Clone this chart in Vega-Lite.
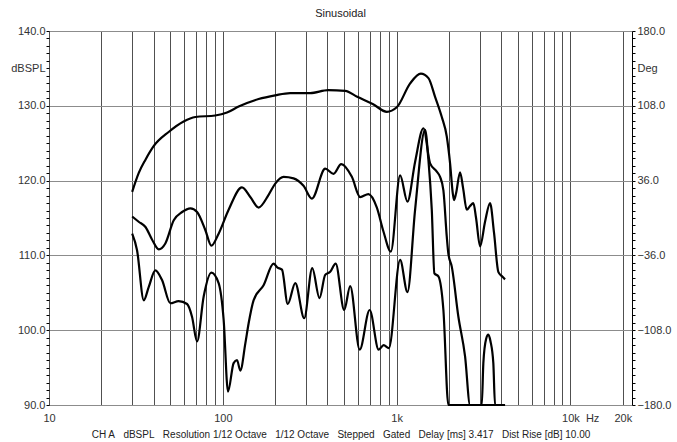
{
  "$schema": "https://vega.github.io/schema/vega-lite/v6.json",
  "width": 583,
  "height": 374,
  "autosize": {"type": "none"},
  "padding": {"left": 49, "top": 31, "right": 45, "bottom": 37},
  "background": "#ffffff",
  "title": {"text": "Sinusoidal", "fontSize": 11, "fontWeight": "normal", "font": "Liberation Sans", "color": "#222222", "offset": 6, "anchor": "middle"},
  "config": {
    "view": {"stroke": "#000000", "strokeWidth": 1},
    "axis": {"labelFont": "Liberation Sans", "labelFontSize": 11, "labelColor": "#333333", "titleFont": "Liberation Sans", "labelOverlap": false, "labelFlush": false, "labelBound": false}
  },
  "data": {"values": [
    {"s": "A", "f": 30.1, "db": 118.5},
    {"s": "A", "f": 32.8, "db": 121.0},
    {"s": "A", "f": 35.9, "db": 122.8},
    {"s": "A", "f": 40.0, "db": 124.6},
    {"s": "A", "f": 48.8, "db": 126.5},
    {"s": "A", "f": 59.5, "db": 127.9},
    {"s": "A", "f": 69.5, "db": 128.5},
    {"s": "A", "f": 90.5, "db": 128.7},
    {"s": "A", "f": 105.7, "db": 129.1},
    {"s": "A", "f": 123.3, "db": 129.9},
    {"s": "A", "f": 160.6, "db": 130.9},
    {"s": "A", "f": 200, "db": 131.4},
    {"s": "A", "f": 244, "db": 131.7},
    {"s": "A", "f": 318, "db": 131.7},
    {"s": "A", "f": 404, "db": 132.1},
    {"s": "A", "f": 506, "db": 132.0},
    {"s": "A", "f": 593, "db": 131.2},
    {"s": "A", "f": 733, "db": 130.2},
    {"s": "A", "f": 878, "db": 129.2},
    {"s": "A", "f": 1002, "db": 129.8},
    {"s": "A", "f": 1196, "db": 133.0},
    {"s": "A", "f": 1378, "db": 134.3},
    {"s": "A", "f": 1524, "db": 133.7},
    {"s": "A", "f": 1664, "db": 131.2},
    {"s": "A", "f": 1819, "db": 128.5},
    {"s": "A", "f": 1943, "db": 125.9},
    {"s": "A", "f": 2030, "db": 122.3},
    {"s": "A", "f": 2104, "db": 118.3},
    {"s": "A", "f": 2140, "db": 117.4},
    {"s": "A", "f": 2198, "db": 118.3},
    {"s": "A", "f": 2317, "db": 121.1},
    {"s": "A", "f": 2412, "db": 119.0},
    {"s": "A", "f": 2532, "db": 116.1},
    {"s": "A", "f": 2645, "db": 116.6},
    {"s": "A", "f": 2763, "db": 117.0},
    {"s": "A", "f": 2864, "db": 115.0},
    {"s": "A", "f": 3020, "db": 111.2},
    {"s": "A", "f": 3226, "db": 114.5},
    {"s": "A", "f": 3447, "db": 117.0},
    {"s": "A", "f": 3634, "db": 113.0},
    {"s": "A", "f": 3846, "db": 107.8},
    {"s": "A", "f": 4040, "db": 107.2},
    {"s": "A", "f": 4204, "db": 106.8},
    {"s": "B", "f": 30.1, "db": 115.2},
    {"s": "B", "f": 32.8, "db": 114.5},
    {"s": "B", "f": 35.9, "db": 113.8},
    {"s": "B", "f": 39.2, "db": 112.1},
    {"s": "B", "f": 42.8, "db": 110.8},
    {"s": "B", "f": 46.7, "db": 111.6},
    {"s": "B", "f": 52.2, "db": 114.7},
    {"s": "B", "f": 58.3, "db": 115.8},
    {"s": "B", "f": 65.1, "db": 116.3},
    {"s": "B", "f": 71.1, "db": 115.8},
    {"s": "B", "f": 79.3, "db": 113.4},
    {"s": "B", "f": 85.9, "db": 111.3},
    {"s": "B", "f": 94.6, "db": 112.9},
    {"s": "B", "f": 108, "db": 116.1},
    {"s": "B", "f": 128.9, "db": 119.1},
    {"s": "B", "f": 143.9, "db": 117.8},
    {"s": "B", "f": 160.6, "db": 116.4},
    {"s": "B", "f": 183.4, "db": 118.1},
    {"s": "B", "f": 200.3, "db": 119.6},
    {"s": "B", "f": 223.6, "db": 120.5},
    {"s": "B", "f": 255.3, "db": 120.3},
    {"s": "B", "f": 291.3, "db": 119.3},
    {"s": "B", "f": 325.6, "db": 117.6},
    {"s": "B", "f": 388.2, "db": 121.6},
    {"s": "B", "f": 433.4, "db": 120.9},
    {"s": "B", "f": 479.8, "db": 122.2},
    {"s": "B", "f": 552.6, "db": 120.5},
    {"s": "B", "f": 616.9, "db": 117.8},
    {"s": "B", "f": 688.4, "db": 118.2},
    {"s": "B", "f": 769.6, "db": 116.4},
    {"s": "B", "f": 839.7, "db": 113.2},
    {"s": "B", "f": 926, "db": 110.5},
    {"s": "B", "f": 1047, "db": 120.7},
    {"s": "B", "f": 1154, "db": 117.2},
    {"s": "B", "f": 1277, "db": 122.5},
    {"s": "B", "f": 1426, "db": 127.0},
    {"s": "B", "f": 1558, "db": 122.3},
    {"s": "B", "f": 1702, "db": 121.2},
    {"s": "B", "f": 1778, "db": 120.5},
    {"s": "B", "f": 1858, "db": 118.7},
    {"s": "B", "f": 1943, "db": 112.5},
    {"s": "B", "f": 1985, "db": 110.2},
    {"s": "B", "f": 2076, "db": 108.5},
    {"s": "B", "f": 2266, "db": 101.8},
    {"s": "B", "f": 2476, "db": 96.5},
    {"s": "B", "f": 2645, "db": 90},
    {"s": "B", "f": 4204, "db": 90},
    {"s": "C", "f": 30.1, "db": 112.9},
    {"s": "C", "f": 32.1, "db": 110.7},
    {"s": "C", "f": 35.1, "db": 104.0},
    {"s": "C", "f": 37.5, "db": 105.8},
    {"s": "C", "f": 40.9, "db": 108.0},
    {"s": "C", "f": 44.7, "db": 106.7},
    {"s": "C", "f": 49.9, "db": 103.6},
    {"s": "C", "f": 55.7, "db": 103.9},
    {"s": "C", "f": 62.3, "db": 103.5},
    {"s": "C", "f": 66.5, "db": 101.8},
    {"s": "C", "f": 71.1, "db": 98.5},
    {"s": "C", "f": 77.6, "db": 104.5},
    {"s": "C", "f": 85.9, "db": 107.7},
    {"s": "C", "f": 94.6, "db": 106.3},
    {"s": "C", "f": 101.1, "db": 101.4},
    {"s": "C", "f": 107.1, "db": 91.8},
    {"s": "C", "f": 115.4, "db": 95.6},
    {"s": "C", "f": 120.7, "db": 96.0},
    {"s": "C", "f": 126.1, "db": 94.6},
    {"s": "C", "f": 134.7, "db": 98.2},
    {"s": "C", "f": 140.7, "db": 100.9},
    {"s": "C", "f": 150.3, "db": 104.0},
    {"s": "C", "f": 171.6, "db": 106.0},
    {"s": "C", "f": 195.9, "db": 108.9},
    {"s": "C", "f": 205.7, "db": 108.4},
    {"s": "C", "f": 218.9, "db": 108.1},
    {"s": "C", "f": 236.4, "db": 103.5},
    {"s": "C", "f": 261.1, "db": 106.3},
    {"s": "C", "f": 294, "db": 101.6},
    {"s": "C", "f": 326.9, "db": 108.3},
    {"s": "C", "f": 360, "db": 104.3},
    {"s": "C", "f": 388.2, "db": 107.4},
    {"s": "C", "f": 414.7, "db": 107.8},
    {"s": "C", "f": 446, "db": 108.9},
    {"s": "C", "f": 499.3, "db": 102.7},
    {"s": "C", "f": 540.5, "db": 105.9},
    {"s": "C", "f": 613, "db": 97.4},
    {"s": "C", "f": 699.5, "db": 102.7},
    {"s": "C", "f": 788.2, "db": 97.4},
    {"s": "C", "f": 842, "db": 98.0},
    {"s": "C", "f": 902, "db": 97.6},
    {"s": "C", "f": 1047, "db": 109.4},
    {"s": "C", "f": 1154, "db": 105.1},
    {"s": "C", "f": 1277, "db": 116.1},
    {"s": "C", "f": 1458, "db": 126.8},
    {"s": "C", "f": 1523, "db": 122.8},
    {"s": "C", "f": 1593, "db": 116.1},
    {"s": "C", "f": 1649, "db": 107.6},
    {"s": "C", "f": 1739, "db": 107.2},
    {"s": "C", "f": 1858, "db": 102.7},
    {"s": "C", "f": 1985, "db": 90},
    {"s": "C", "f": 3088, "db": 90},
    {"s": "C", "f": 3154, "db": 95.6},
    {"s": "C", "f": 3269, "db": 98.8},
    {"s": "C", "f": 3370, "db": 99.4},
    {"s": "C", "f": 3469, "db": 98.5},
    {"s": "C", "f": 3600, "db": 95.6},
    {"s": "C", "f": 3682, "db": 90},
    {"s": "C", "f": 4204, "db": 90}
  ]},
  "encoding": {
    "x": {
      "field": "f", "type": "quantitative",
      "scale": {"type": "log", "domain": [10, 22600], "nice": false},
      "axis": {
        "values": [10,20,30,40,50,60,70,80,90,100,200,300,400,500,600,700,800,900,1000,2000,3000,4000,5000,6000,7000,8000,9000,10000,13330,20000],
        "labelExpr": "datum.value==10?'10':datum.value==100?'100':datum.value==1000?'1k':datum.value==10000?'10k':datum.value==20000?'20k':datum.value==13330?'Hz':''",
        "grid": true,
        "gridColor": {"condition": {"test": "datum.value==13330", "value": "rgba(0,0,0,0)"}, "value": "#505050"},
        "gridWidth": 1,
        "ticks": false,
        "domain": false,
        "labelPadding": 7,
        "title": "CH A\u00a0\u00a0\u00a0dBSPL\u00a0\u00a0\u00a0Resolution 1/12 Octave\u00a0\u00a0\u00a01/12 Octave\u00a0\u00a0\u00a0Stepped\u00a0\u00a0\u00a0Gated\u00a0\u00a0\u00a0Delay [ms] 3.417\u00a0\u00a0\u00a0Dist Rise [dB] 10.00",
        "titleFontSize": 10,
        "titleFontWeight": "normal",
        "titleColor": "#222222",
        "titlePadding": 6
      }
    }
  },
  "layer": [
    {
      "transform": [{"filter": "datum.s != 'C'"}],
      "mark": {"type": "line", "interpolate": "monotone", "color": "#000000", "strokeWidth": 2.2},
      "encoding": {
        "detail": {"field": "s"},
        "y": {
          "field": "db", "type": "quantitative",
          "scale": {"domain": [90, 140], "nice": false, "zero": false},
          "axis": {
            "orient": "left",
            "values": [90,91,92,93,94,95,96,97,98,99,100,101,102,103,104,105,106,107,108,109,110,111,112,113,114,115,116,117,118,119,120,121,122,123,124,125,126,127,128,129,130,131,132,133,134,135,136,137,138,139,140],
            "labelExpr": "datum.value==135?'dBSPL':(datum.value%10==0?format(datum.value,'.1f'):'')",
            "grid": true,
            "gridColor": "#8c8c8c",
            "gridOpacity": {"condition": {"test": "datum.value%10==0", "value": 1}, "value": 0},
            "tickSize": 3,
            "tickColor": "#000000",
            "domain": false,
            "labelPadding": 1,
            "title": null
          }
        }
      }
    },
    {
      "transform": [{"filter": "datum.s == 'C'"}],
      "mark": {"type": "line", "interpolate": "monotone", "color": "#000000", "strokeWidth": 2.2},
      "encoding": {
        "y": {
          "field": "db", "type": "quantitative",
          "scale": {"domain": [90, 140], "nice": false, "zero": false},
          "axis": {
            "orient": "right",
            "values": [90,91,92,93,94,95,96,97,98,99,100,101,102,103,104,105,106,107,108,109,110,111,112,113,114,115,116,117,118,119,120,121,122,123,124,125,126,127,128,129,130,131,132,133,134,135,136,137,138,139,140],
            "labelExpr": "datum.value==135?'Deg':(datum.value%10==0?format((datum.value-115)*7.2,'.1f'):'')",
            "grid": false,
            "tickSize": 3,
            "tickColor": "#000000",
            "domain": false,
            "labelPadding": 2,
            "title": null
          }
        }
      }
    }
  ],
  "resolve": {"axis": {"y": "independent"}}
}
